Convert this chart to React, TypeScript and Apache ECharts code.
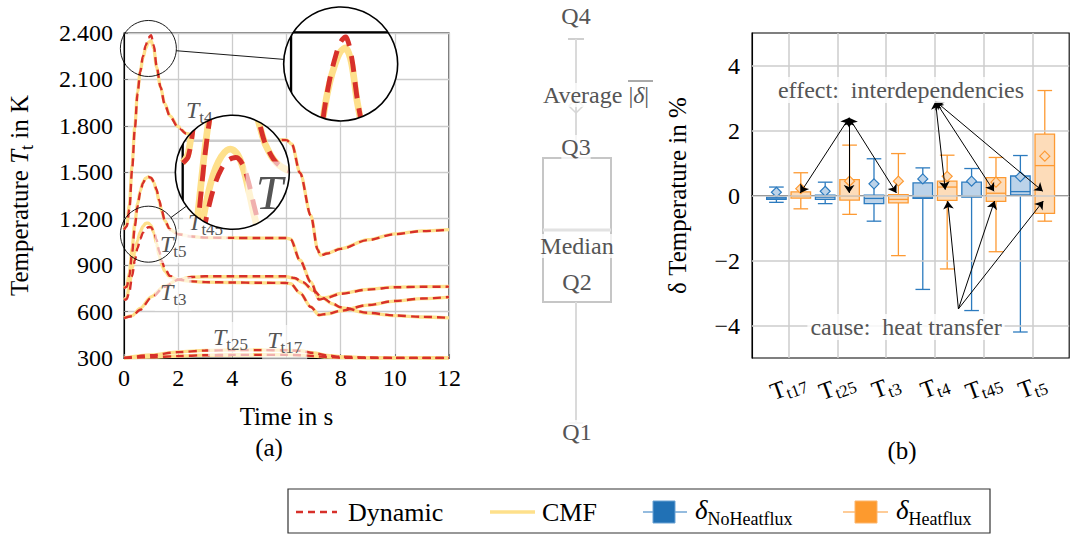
import React, { useEffect, useRef } from "react";
import * as echarts from "echarts";

const SERIF = "'Liberation Serif', 'DejaVu Serif', serif";
const RED = "#d7302a";
const YELLOW = "#fee08b";
const BLUE = "#2c7bbf";
const BLUE_FILL = "#bcd3e9";
const BLUE_SOLID = "#2171b5";
const ORANGE = "#fd9a33";
const ORANGE_FILL = "#fddcb9";
const ORANGE_SOLID = "#fd9a2e";
const GRID = "#cccccc";
const GRAY_TEXT = "#555555";

// ---------------- (a) temperatures over time ----------------
const xTicksA = [0, 2, 4, 6, 8, 10, 12];
const yTicksA = [300, 600, 900, 1200, 1500, 1800, 2100, 2400];

const fanTime = [0, 1, 2, 3, 4, 5, 6, 6.5, 7, 7.5, 8, 9, 10, 12];
const tt17Dynamic = [300, 305, 312, 318, 320, 320, 320, 318, 312, 306, 302, 300, 300, 300];
const tt17Cmf = [300, 306, 313, 319, 321, 321, 321, 319, 313, 306, 302, 300, 300, 300];
const tt25Dynamic = [300, 318, 338, 348, 351, 351, 350, 346, 332, 316, 308, 303, 301, 300];
const tt25Cmf = [300, 320, 340, 349, 352, 352, 351, 347, 333, 317, 309, 303, 301, 300];

const tt3Time = [0, 0.3, 0.6, 1.0, 1.5, 2.0, 2.5, 3, 4, 5, 6, 6.3, 6.6, 7.0, 7.3, 7.7, 8, 9, 10, 11, 12];
const tt3Dynamic = [558, 570, 612, 688, 760, 805, 823, 828, 828, 828, 828, 817, 790, 736, 692, 652, 628, 592, 575, 566, 560];
const tt3Cmf = [558, 574, 620, 695, 765, 806, 822, 825, 825, 825, 825, 814, 788, 734, 690, 650, 626, 590, 574, 565, 559];

const tt4Time = [0, 0.1, 0.2, 0.3, 0.4, 0.5, 0.6, 0.7, 0.8, 0.9, 1.0, 1.1, 1.2, 1.35, 1.5, 1.7, 2.0, 2.3, 2.7, 3.2, 4, 5, 6, 6.2, 6.5, 6.9, 7.15, 7.25, 7.5, 8, 9, 10, 11, 12];
const tt4Dynamic = [1130, 1150, 1260, 1520, 1780, 2010, 2150, 2250, 2320, 2370, 2385, 2320, 2190, 2050, 1940, 1860, 1790, 1750, 1730, 1720, 1714, 1710, 1708, 1680, 1495, 1220, 1000, 962, 975, 1005, 1062, 1100, 1120, 1128];
const tt4Cmf = [1130, 1160, 1290, 1550, 1800, 2020, 2150, 2240, 2300, 2340, 2350, 2300, 2180, 2050, 1945, 1865, 1795, 1752, 1732, 1722, 1715, 1711, 1709, 1682, 1497, 1222, 1003, 964, 977, 1007, 1064, 1102, 1122, 1130];

const turbTime = [0, 0.1, 0.2, 0.3, 0.4, 0.5, 0.6, 0.7, 0.8, 0.9, 1.0, 1.1, 1.2, 1.3, 1.4, 1.5, 1.7, 2.0, 2.5, 3, 4, 5, 6, 6.15, 6.5, 6.9, 7.2, 7.5, 8, 9, 10, 11, 12];
const tt45Dynamic = [750, 760, 830, 980, 1150, 1280, 1370, 1430, 1460, 1470, 1465, 1440, 1390, 1320, 1250, 1190, 1130, 1100, 1085, 1078, 1076, 1075, 1075, 1068, 930, 790, 678, 690, 715, 742, 757, 760, 761];
const tt45Cmf = [750, 765, 850, 1010, 1170, 1295, 1380, 1435, 1462, 1470, 1462, 1435, 1380, 1310, 1245, 1188, 1130, 1100, 1085, 1078, 1076, 1075, 1075, 1068, 932, 792, 680, 692, 717, 744, 758, 761, 762];
const tt5Dynamic = [675, 680, 730, 830, 930, 1010, 1070, 1110, 1135, 1145, 1145, 1120, 1065, 990, 925, 880, 830, 807, 795, 790, 788, 786, 785, 780, 720, 630, 578, 585, 605, 642, 668, 684, 694];
const tt5Cmf = [675, 690, 770, 880, 980, 1060, 1115, 1150, 1170, 1172, 1155, 1110, 1040, 960, 900, 862, 822, 805, 795, 790, 788, 786, 785, 780, 720, 630, 578, 585, 605, 642, 668, 684, 694];

const curveDefs = [
  { key: "t17", time: fanTime, dyn: tt17Dynamic, cmf: tt17Cmf },
  { key: "t25", time: fanTime, dyn: tt25Dynamic, cmf: tt25Cmf },
  { key: "t3", time: tt3Time, dyn: tt3Dynamic, cmf: tt3Cmf },
  { key: "t4", time: tt4Time, dyn: tt4Dynamic, cmf: tt4Cmf },
  { key: "t45", time: turbTime, dyn: tt45Dynamic, cmf: tt45Cmf },
  { key: "t5", time: turbTime, dyn: tt5Dynamic, cmf: tt5Cmf },
];

// curve labels (anchor = top-left of label box, in data coordinates)
const labelSubs = ["t4", "t45", "t5", "t3", "t25", "t17"];
const labelTime = [2.1, 2.18, 1.14, 1.14, 3.1, 5.1];
const labelTemp = [1999, 1276, 1134, 823, 533, 513];

// magnifier insets (source circle centre -> enlarged circle centre)
const insetSrcTime = [0.9, 0.9];
const insetSrcTemp = [2300, 1100];
const insetBigTime = [8, 4];
const insetBigTemp = [2200, 1500];
const SRC_R = 28;
const BIG_R = 57;

// ---------------- (b) deviations ----------------
const boxCategories = ["t17", "t25", "t3", "t4", "t45", "t5"];
const noHeatMin = [-0.21, -0.25, -0.79, -2.89, -3.54, -4.2];
const noHeatQ1 = [-0.12, -0.12, -0.25, -0.09, -0.05, 0.02];
const noHeatMedian = [-0.08, -0.05, -0.09, -0.05, -0.02, 0.12];
const noHeatQ3 = [-0.05, 0.01, 0.01, 0.39, 0.41, 0.6];
const noHeatMax = [0.26, 0.41, 1.13, 0.85, 0.83, 1.23];
const noHeatMean = [0.1, 0.13, 0.36, 0.51, 0.44, 0.58];

const heatMin = [-0.41, -0.58, -1.85, -2.26, -1.73, -0.79];
const heatQ1 = [-0.08, -0.14, -0.23, -0.15, -0.18, -0.55];
const heatMedian = [-0.02, -0.02, -0.12, 0.26, 0.07, 0.92];
const heatQ3 = [0.11, 0.49, 0.03, 0.44, 0.55, 1.89];
const heatMax = [0.7, 1.55, 1.29, 1.24, 1.17, 3.23];
const heatMean = [0.21, 0.44, 0.44, 0.59, 0.41, 1.21];

const yGridB = [-4, -2, 0, 2, 4];
const xGridB = [1, 2, 3, 4, 5, 6];

const effectSources = [[2.24, 2.39], [2.24, 2.39], [2.24, 2.39], [4.01, 2.9], [4.01, 2.9], [4.01, 2.9]];
const effectTargets = [[1.24, 0.08], [2.24, 0.08], [3.21, 0.08], [4.21, 0.18], [5.21, 0.13], [6.21, 0.13]];
const causeSource = [4.48, -3.49];
const causeTargets = [[4.26, -0.17], [5.22, -0.17], [6.22, -0.17]];

const BOX_W = 0.4;
const CAP_W = 0.3;

function labelStyle(sub: string, k: number) {
  return {
    text: `{i|T}{s|${sub}}`,
    align: "left",
    verticalAlign: "top",
    backgroundColor: "rgba(255,255,255,0.62)",
    padding: [3 * k, 5 * k],
    rich: {
      i: { fontFamily: SERIF, fontSize: 24 * k, fontStyle: "italic", fill: GRAY_TEXT, verticalAlign: "bottom", padding: [0, 0, 4 * k, 0] },
      s: { fontFamily: SERIF, fontSize: 17 * k, fill: GRAY_TEXT, verticalAlign: "bottom" },
    },
  };
}

function insetRender(params: any, api: any) {
  const idx = params.dataIndex;
  const sc = api.coord([insetSrcTime[idx], insetSrcTemp[idx]]);
  const bc = api.coord([insetBigTime[idx], insetBigTemp[idx]]);
  const k = BIG_R / SRC_R;
  const tf = (p: number[]) => [bc[0] + k * (p[0] - sc[0]), bc[1] + k * (p[1] - sc[1])];
  const content: any[] = [];
  const x0 = xTicksA[0], x1 = xTicksA[xTicksA.length - 1];
  const y0 = yTicksA[0], y1 = yTicksA[yTicksA.length - 1];
  xTicksA.forEach((t) => {
    const a = tf(api.coord([t, y0])), b = tf(api.coord([t, y1]));
    content.push({ type: "line", shape: { x1: a[0], y1: a[1], x2: b[0], y2: b[1] }, style: { stroke: GRID, lineWidth: 1.3 * k } });
  });
  yTicksA.forEach((v) => {
    const a = tf(api.coord([x0, v])), b = tf(api.coord([x1, v]));
    content.push({ type: "line", shape: { x1: a[0], y1: a[1], x2: b[0], y2: b[1] }, style: { stroke: GRID, lineWidth: 1.3 * k } });
  });
  const r0 = tf(api.coord([x0, y0])), r1 = tf(api.coord([x1, y1]));
  content.push({ type: "rect", shape: { x: r0[0], y: r1[1], width: r1[0] - r0[0], height: r0[1] - r1[1] }, style: { fill: "none", stroke: "#000", lineWidth: 1.1 * k } });
  curveDefs.forEach((c) => {
    const pts = c.time.map((t, i) => tf(api.coord([t, c.cmf[i]])));
    content.push({ type: "polyline", shape: { points: pts, smooth: 0.3 }, style: { fill: "none", stroke: YELLOW, lineWidth: 3.3 * k } });
  });
  curveDefs.forEach((c) => {
    const pts = c.time.map((t, i) => tf(api.coord([t, c.dyn[i]])));
    content.push({ type: "polyline", shape: { points: pts, smooth: 0.3 }, style: { fill: "none", stroke: RED, lineWidth: 2.4 * k, lineDash: [8 * k, 5 * k] } });
  });
  labelSubs.forEach((sub, i) => {
    const p = tf(api.coord([labelTime[i], labelTemp[i]]));
    const near = p[0] < bc[0] + BIG_R && p[0] > bc[0] - BIG_R - 130 && p[1] < bc[1] + BIG_R && p[1] > bc[1] - BIG_R - 70;
    if (near) content.push({ type: "text", x: p[0], y: p[1], style: labelStyle(sub, k) });
  });
  const dx = bc[0] - sc[0], dy = bc[1] - sc[1];
  const len = Math.sqrt(dx * dx + dy * dy);
  const ux = dx / len, uy = dy / len;
  return {
    type: "group",
    children: [
      { type: "circle", shape: { cx: sc[0], cy: sc[1], r: SRC_R }, style: { fill: "none", stroke: "#000", lineWidth: 0.9 } },
      { type: "line", shape: { x1: sc[0] + ux * SRC_R, y1: sc[1] + uy * SRC_R, x2: bc[0] - ux * BIG_R, y2: bc[1] - uy * BIG_R }, style: { stroke: "#000", lineWidth: 0.9 } },
      { type: "circle", shape: { cx: bc[0], cy: bc[1], r: BIG_R }, style: { fill: "#fff", stroke: "none" } },
      { type: "group", children: content, clipPath: { type: "circle", shape: { cx: bc[0], cy: bc[1], r: BIG_R } } },
      { type: "circle", shape: { cx: bc[0], cy: bc[1], r: BIG_R }, style: { fill: "none", stroke: "#000", lineWidth: 1.6 } },
    ],
  };
}

function labelRender(params: any, api: any) {
  const i = params.dataIndex;
  const p = api.coord([api.value(0), api.value(1)]);
  return { type: "text", x: p[0], y: p[1], style: labelStyle(labelSubs[i], 1) };
}

function makeBoxRender(stroke: string, fill: string) {
  return (params: any, api: any) => {
    const x = api.value(0);
    const mn = api.value(1), q1 = api.value(2), med = api.value(3), q3 = api.value(4), mx = api.value(5), mean = api.value(6);
    const hw = BOX_W / 2, cw = CAP_W / 2;
    const pMin = api.coord([x, mn]), pMax = api.coord([x, mx]);
    const pQ1 = api.coord([x, q1]), pQ3 = api.coord([x, q3]);
    const pMed = api.coord([x, med]), pMean = api.coord([x, mean]);
    const left = api.coord([x - hw, 0])[0], right = api.coord([x + hw, 0])[0];
    const capL = api.coord([x - cw, 0])[0], capR = api.coord([x + cw, 0])[0];
    const d = 5;
    const ls = { stroke, lineWidth: 1.3 };
    return {
      type: "group",
      children: [
        { type: "line", shape: { x1: pQ3[0], y1: pQ3[1], x2: pMax[0], y2: pMax[1] }, style: ls },
        { type: "line", shape: { x1: pQ1[0], y1: pQ1[1], x2: pMin[0], y2: pMin[1] }, style: ls },
        { type: "line", shape: { x1: capL, y1: pMax[1], x2: capR, y2: pMax[1] }, style: ls },
        { type: "line", shape: { x1: capL, y1: pMin[1], x2: capR, y2: pMin[1] }, style: ls },
        { type: "rect", shape: { x: left, y: pQ3[1], width: right - left, height: Math.max(pQ1[1] - pQ3[1], 1) }, style: { fill, stroke, lineWidth: 1.3 } },
        { type: "line", shape: { x1: left, y1: pMed[1], x2: right, y2: pMed[1] }, style: ls },
        { type: "polygon", shape: { points: [[pMean[0], pMean[1] - d], [pMean[0] + d, pMean[1]], [pMean[0], pMean[1] + d], [pMean[0] - d, pMean[1]]] }, style: { fill, stroke, lineWidth: 1.2 } },
      ],
    };
  };
}

const gtext = (text: string, x: number, y: number, extra: any = {}) => ({
  type: "text",
  x,
  y,
  z: 20,
  style: { text, fontFamily: SERIF, fontSize: 24, fill: GRAY_TEXT, align: "center", verticalAlign: "middle", ...extra },
});
const gline = (x1: number, y1: number, x2: number, y2: number, stroke: string, lineWidth: number, extra: any = {}) => ({
  type: "line",
  z: 19,
  shape: { x1, y1, x2, y2 },
  style: { stroke, lineWidth, ...extra },
});

export default function App() {
  const ref = useRef<HTMLDivElement>(null);
  useEffect(() => {
    const chart = echarts.init(ref.current as HTMLDivElement, null, { renderer: "svg" });

    const cmfSeries = curveDefs.map((c) => ({
      type: "line",
      name: "CMF " + c.key,
      xAxisIndex: 0,
      yAxisIndex: 0,
      data: c.time.map((t, i) => [t, c.cmf[i]]),
      showSymbol: false,
      symbol: "none",
      smooth: 0.3,
      smoothMonotone: "x",
      silent: true,
      z: 2,
      lineStyle: { color: YELLOW, width: 3.3 },
    }));
    const dynSeries = curveDefs.map((c) => ({
      type: "line",
      name: "Dynamic " + c.key,
      xAxisIndex: 0,
      yAxisIndex: 0,
      data: c.time.map((t, i) => [t, c.dyn[i]]),
      showSymbol: false,
      symbol: "none",
      smooth: 0.3,
      smoothMonotone: "x",
      silent: true,
      z: 3,
      lineStyle: { color: RED, width: 2.4, type: [8, 5] },
    }));

    const noHeatData = boxCategories.map((_, i) => [i + 1 - 0.25, noHeatMin[i], noHeatQ1[i], noHeatMedian[i], noHeatQ3[i], noHeatMax[i], noHeatMean[i]]);
    const heatData = boxCategories.map((_, i) => [i + 1 + 0.25, heatMin[i], heatQ1[i], heatMedian[i], heatQ3[i], heatMax[i], heatMean[i]]);

    const arrowData: any[] = [];
    effectSources.forEach((s, i) => {
      arrowData.push([{ coord: s, symbol: "arrow" }, { coord: effectTargets[i], symbol: "arrow" }]);
    });
    causeTargets.forEach((t) => {
      arrowData.push([{ coord: causeSource, symbol: "none" }, { coord: t, symbol: "arrow" }]);
    });

    const fmtA = (v: number) => (v >= 1000 ? `${Math.floor(v / 1000)}.${String(v % 1000).padStart(3, "0")}` : String(v));

    const option: any = {
      animation: false,
      backgroundColor: "#ffffff",
      textStyle: { fontFamily: SERIF },
      grid: [
        { left: 124, top: 33, width: 325, height: 325, show: true, borderColor: "#000", borderWidth: 1.1, backgroundColor: "transparent" },
        { left: 752, top: 33, width: 325, height: 325, show: true, borderColor: "#000", borderWidth: 1.1, backgroundColor: "transparent" },
      ],
      xAxis: [
        {
          type: "value",
          gridIndex: 0,
          min: 0,
          max: 12,
          interval: 2,
          name: "Time in s",
          nameLocation: "middle",
          nameGap: 46,
          nameTextStyle: { fontFamily: SERIF, fontSize: 25, color: "#000" },
          axisLine: { show: true, lineStyle: { color: "#000", width: 1.1 } },
          axisTick: { show: true, inside: true, length: 4, lineStyle: { color: "#777" } },
          axisLabel: { fontFamily: SERIF, fontSize: 24, color: "#000", margin: 8 },
          splitLine: { show: true, lineStyle: { color: GRID, width: 1.3 } },
        },
        {
          type: "value",
          gridIndex: 1,
          min: 0.25,
          max: 6.75,
          interval: 0.25,
          axisLine: { show: true, lineStyle: { color: "#000", width: 1.1 } },
          axisTick: { show: false },
          splitLine: { show: false },
          axisLabel: {
            rotate: 20,
            align: "center",
            verticalAlign: "middle",
            margin: 30,
            formatter: (v: number) => {
              const i = Math.round(v);
              if (Math.abs(v - i) < 1e-6 && i >= 1 && i <= boxCategories.length) return `{t|T}{s|${boxCategories[i - 1]}}`;
              return "";
            },
            rich: {
              t: { fontFamily: SERIF, fontSize: 24, color: "#000", verticalAlign: "bottom", padding: [0, 0, 3, 0] },
              s: { fontFamily: SERIF, fontSize: 17, color: "#000", verticalAlign: "bottom" },
            },
          },
        },
      ],
      yAxis: [
        {
          type: "value",
          gridIndex: 0,
          min: 300,
          max: 2400,
          interval: 300,
          name: "{a|Temperature }{i|T}{s|t}{a| in K}",
          nameLocation: "middle",
          nameGap: 88,
          nameTextStyle: {
            rich: {
              a: { fontFamily: SERIF, fontSize: 25, color: "#000", verticalAlign: "bottom", padding: [0, 0, 4, 0] },
              i: { fontFamily: SERIF, fontSize: 25, fontStyle: "italic", color: "#000", verticalAlign: "bottom", padding: [0, 0, 4, 0] },
              s: { fontFamily: SERIF, fontSize: 18, color: "#000", verticalAlign: "bottom" },
            },
          },
          axisLine: { show: true, lineStyle: { color: "#000", width: 1.1 } },
          axisTick: { show: true, inside: true, length: 4, lineStyle: { color: "#777" } },
          axisLabel: { fontFamily: SERIF, fontSize: 24, color: "#000", margin: 11, formatter: fmtA },
          splitLine: { show: true, lineStyle: { color: GRID, width: 1.3 } },
        },
        {
          type: "value",
          gridIndex: 1,
          min: -5,
          max: 5,
          interval: 1,
          name: "\u03b4 Temperature in %",
          nameLocation: "middle",
          nameGap: 62,
          nameTextStyle: { fontFamily: SERIF, fontSize: 25, color: "#000" },
          axisLine: { show: true, lineStyle: { color: "#000", width: 1.1 } },
          axisTick: { show: false },
          splitLine: { show: false },
          axisLabel: {
            fontFamily: SERIF,
            fontSize: 24,
            color: "#000",
            margin: 12,
            formatter: (v: number) => (Math.round(v) % 2 === 0 ? (v < 0 ? "\u2212" + Math.abs(v) : String(v)) : ""),
          },
        },
      ],
      series: [
        ...cmfSeries,
        ...dynSeries,
        {
          type: "custom",
          name: "labels",
          xAxisIndex: 0,
          yAxisIndex: 0,
          z: 5,
          silent: true,
          clip: false,
          data: labelSubs.map((_, i) => [labelTime[i], labelTemp[i]]),
          renderItem: labelRender,
        },
        {
          type: "custom",
          name: "insets",
          xAxisIndex: 0,
          yAxisIndex: 0,
          z: 10,
          silent: true,
          clip: false,
          data: insetSrcTime.map((t, i) => [t, insetSrcTemp[i]]),
          renderItem: insetRender,
        },
        {
          type: "line",
          name: "gridB",
          xAxisIndex: 1,
          yAxisIndex: 1,
          data: [],
          z: 1,
          silent: true,
          markLine: {
            silent: true,
            animation: false,
            symbol: ["none", "none"],
            label: { show: false },
            lineStyle: { color: GRID, width: 1.5, type: "solid" },
            emphasis: { disabled: true },
            data: [...yGridB.map((y) => ({ yAxis: y })), ...xGridB.map((x) => ({ xAxis: x }))],
          },
        },
        {
          type: "custom",
          name: "NoHeatflux",
          xAxisIndex: 1,
          yAxisIndex: 1,
          z: 3,
          silent: true,
          data: noHeatData,
          renderItem: makeBoxRender(BLUE, BLUE_FILL),
        },
        {
          type: "custom",
          name: "Heatflux",
          xAxisIndex: 1,
          yAxisIndex: 1,
          z: 3,
          silent: true,
          data: heatData,
          renderItem: makeBoxRender(ORANGE, ORANGE_FILL),
        },
        {
          type: "line",
          name: "arrows",
          xAxisIndex: 1,
          yAxisIndex: 1,
          data: [],
          z: 6,
          silent: true,
          markLine: {
            silent: true,
            animation: false,
            symbol: ["none", "arrow"],
            symbolSize: 8,
            label: { show: false },
            lineStyle: { color: "#000", width: 1, type: "solid" },
            emphasis: { disabled: true },
            data: arrowData,
          },
        },
      ],
      graphic: {
        elements: [
          // (a) / (b)
          gtext("(a)", 269, 447, { fontSize: 25, fill: "#000" }),
          gtext("(b)", 902, 450, { fontSize: 25, fill: "#000" }),
          // annotations in (b)
          gtext("effect:  interdependencies", 901, 90, { backgroundColor: "rgba(255,255,255,0.8)", padding: [1, 3] }),
          gtext("cause:  heat transfer", 906, 327, { backgroundColor: "rgba(255,255,255,0.8)", padding: [1, 3] }),
          // box legend (middle)
          gline(568, 39, 584, 39, "#cfcfcf", 2),
          gline(576, 39, 576, 158, "#dadada", 2),
          { type: "polygon", z: 19, shape: { points: [[576, 99], [583, 106], [576, 113], [569, 106]] }, style: { fill: "none", stroke: "#d6d6d6", lineWidth: 1.5 } },
          { type: "rect", z: 19, shape: { x: 543, y: 158, width: 68, height: 144 }, style: { fill: "none", stroke: "#c6c6c6", lineWidth: 2 } },
          gline(543, 230, 611, 230, "#e2e2e2", 3),
          gline(576, 302, 576, 423, "#dadada", 2),
          gline(569, 423, 583, 423, "#dadada", 2),
          gtext("Q4", 576, 16),
          gtext("{a|Average |}{d|\u03b4}{a||}", 596, 95, {
            backgroundColor: "rgba(255,255,255,0.75)",
            rich: {
              a: { fontFamily: SERIF, fontSize: 24, fill: GRAY_TEXT },
              d: { fontFamily: SERIF, fontSize: 24, fill: GRAY_TEXT, fontStyle: "italic" },
            },
          }),
          gline(628, 81, 653, 81, GRAY_TEXT, 1),
          gtext("Q3", 576, 147, { backgroundColor: "rgba(255,255,255,0.75)" }),
          gtext("Median", 577, 246, { backgroundColor: "rgba(255,255,255,0.75)" }),
          gtext("Q2", 577, 282, { backgroundColor: "rgba(255,255,255,0.75)" }),
          gtext("Q1", 577, 432, { backgroundColor: "rgba(255,255,255,0.75)" }),
          // bottom legend
          { type: "rect", z: 18, shape: { x: 288, y: 489, width: 702, height: 44 }, style: { fill: "#fff", stroke: "#333", lineWidth: 1.2 } },
          gline(296, 512, 337, 512, RED, 2.4, { lineDash: [7, 5] }),
          gtext("Dynamic", 348, 512, { align: "left", fontSize: 26, fill: "#000" }),
          gline(490, 512, 535, 512, YELLOW, 3.3),
          gtext("CMF", 542, 512, { align: "left", fontSize: 26, fill: "#000" }),
          gline(643, 512, 687, 512, BLUE, 1.2),
          { type: "rect", z: 20, shape: { x: 653, y: 501, width: 22, height: 22 }, style: { fill: BLUE_SOLID, stroke: "#6aa3d4", lineWidth: 1 } },
          gtext("{d|\u03b4}{s|NoHeatflux}", 695, 512, {
            align: "left",
            rich: {
              d: { fontFamily: SERIF, fontSize: 27, fontStyle: "italic", fill: "#000", verticalAlign: "bottom", padding: [0, 0, 5, 0] },
              s: { fontFamily: SERIF, fontSize: 18, fill: "#000", verticalAlign: "bottom" },
            },
          }),
          gline(843, 512, 888, 512, ORANGE, 1.2),
          { type: "rect", z: 20, shape: { x: 855, y: 501, width: 22, height: 22 }, style: { fill: ORANGE_SOLID, stroke: "#fdb56a", lineWidth: 1 } },
          gtext("{d|\u03b4}{s|Heatflux}", 896, 512, {
            align: "left",
            rich: {
              d: { fontFamily: SERIF, fontSize: 27, fontStyle: "italic", fill: "#000", verticalAlign: "bottom", padding: [0, 0, 5, 0] },
              s: { fontFamily: SERIF, fontSize: 18, fill: "#000", verticalAlign: "bottom" },
            },
          }),
        ],
      },
    };

    chart.setOption(option);
    return () => chart.dispose();
  }, []);

  return <div ref={ref} style={{ position: "absolute", left: 0, top: 0, width: 1072, height: 535 }} />;
}
